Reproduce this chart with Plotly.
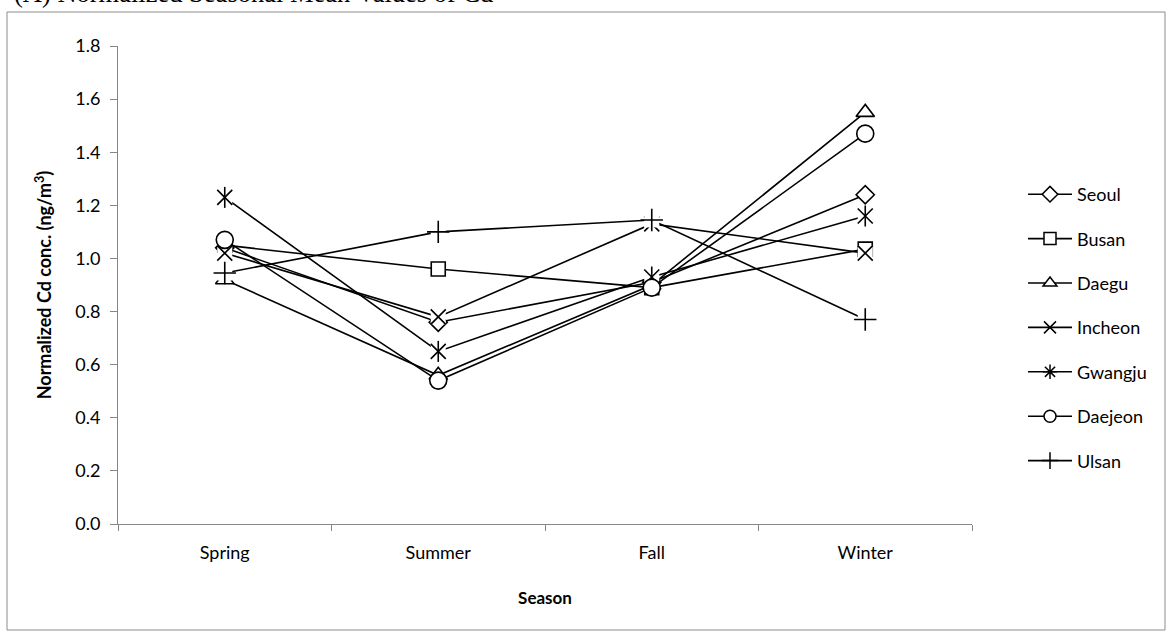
import plotly.graph_objects as go

# Seasonal mean Cd, normalized, for seven Korean cities
seasons = ["Spring", "Summer", "Fall", "Winter"]
seoul = [1.04, 0.76, 0.91, 1.24]
busan = [1.05, 0.96, 0.89, 1.035]
daegu = [0.92, 0.56, 0.90, 1.55]
incheon = [1.02, 0.78, 1.13, 1.02]
gwangju = [1.23, 0.65, 0.93, 1.16]
daejeon = [1.07, 0.54, 0.89, 1.47]
ulsan = [0.945, 1.10, 1.145, 0.77]

y_ticks = [0.0, 0.2, 0.4, 0.6, 0.8, 1.0, 1.2, 1.4, 1.6, 1.8]

# figure geometry (pixels)
W, H = 1173, 640
L, R, T, B = 118, 972, 46, 524

def px(x):
    return (x - L) / (R - L)

def py(y):
    return (B - y) / (B - T)

FONT = "Lato, 'Open Sans', sans-serif"
BLACK = "#000000"
LW = 1.6

# name, values, symbols drawn at the point, marker size, needs white backing square
series = [
    ("Seoul", seoul, ["diamond"], 14, False),
    ("Busan", busan, ["square"], 14, False),
    ("Daegu", daegu, ["triangle-up"], 16, False),
    ("Incheon", incheon, ["x-thin"], 15, True),
    ("Gwangju", gwangju, ["x-thin", "line-ns"], 15, True),
    ("Daejeon", daejeon, ["circle"], 17, False),
    ("Ulsan", ulsan, ["cross-thin"], 16, True),
]

legend_symbol = {"Gwangju": "asterisk"}

fig = go.Figure()

for name, vals, symbols, size, backed in series:
    if backed:
        # line plus white square backing that breaks the line at each point
        fig.add_trace(go.Scatter(
            x=seasons, y=vals, mode="lines+markers", showlegend=False,
            hoverinfo="skip",
            line=dict(color=BLACK, width=LW),
            marker=dict(symbol="square", size=15, color="white",
                        line=dict(width=0)),
        ))
        for sym in symbols:
            fig.add_trace(go.Scatter(
                x=seasons, y=vals, mode="markers", showlegend=False,
                name=name,
                marker=dict(symbol=sym, size=size, color=BLACK,
                            line=dict(color=BLACK, width=1.6)),
            ))
    else:
        fig.add_trace(go.Scatter(
            x=seasons, y=vals, mode="lines+markers", showlegend=False,
            name=name,
            line=dict(color=BLACK, width=LW),
            marker=dict(symbol=symbols[0], size=size, color="white",
                        line=dict(color=BLACK, width=1.6)),
        ))
    # legend entry
    fig.add_trace(go.Scatter(
        x=[None], y=[None], mode="lines+markers", name=name,
        legendgroup=name,
        line=dict(color=BLACK, width=LW),
        marker=dict(symbol=legend_symbol.get(name, symbols[0]),
                    size=12,
                    color="white" if not backed else BLACK,
                    line=dict(color=BLACK, width=1.5)),
    ))

axis_grey = "#868686"

fig.update_layout(
    width=W, height=H,
    margin=dict(l=L, r=W - R, t=T, b=H - B, pad=0),
    paper_bgcolor="white", plot_bgcolor="white",
    font=dict(family=FONT, size=18, color=BLACK),
    showlegend=True,
    legend=dict(
        x=px(1023), xanchor="left", y=py(176), yanchor="top",
        font=dict(family=FONT, size=18, color=BLACK),
        traceorder="grouped", tracegroupgap=18, itemwidth=44,
        bgcolor="rgba(0,0,0,0)", borderwidth=0,
    ),
    xaxis=dict(
        type="category", categoryorder="array", categoryarray=seasons,
        range=[-0.5, 3.5],
        showline=True, linecolor=axis_grey, linewidth=1,
        ticks="outside", tickson="boundaries", ticklen=6,
        tickcolor=axis_grey, showgrid=False, zeroline=False,
        tickfont=dict(family=FONT, size=18), ticklabelstandoff=12,
        title=dict(text="<b>Season</b>", font=dict(family=FONT, size=17),
                   standoff=30),
    ),
    yaxis=dict(
        range=[0, 1.8], tickvals=y_ticks, tickformat=".1f",
        showline=True, linecolor=axis_grey, linewidth=1,
        ticks="outside", ticklen=7, tickcolor=axis_grey,
        showgrid=False, zeroline=False,
        tickfont=dict(family=FONT, size=18), ticklabelstandoff=6,
        title=dict(text="<b>Normalized Cd conc. (ng/m<sup>3</sup>)</b>",
                   font=dict(family=FONT, size=18), standoff=18),
    ),
    shapes=[dict(
        type="rect", xref="paper", yref="paper",
        x0=px(7), x1=px(1165), y0=py(630), y1=py(12),
        line=dict(color="#8c8c8c", width=1), fillcolor="rgba(0,0,0,0)",
        layer="below",
    )],
    annotations=[dict(
        text="(A) Normalized Seasonal Mean Values of Cd",
        xref="paper", yref="paper", x=px(12), y=py(10),
        xanchor="left", yanchor="bottom", showarrow=False,
        font=dict(family="'Liberation Serif', 'Times New Roman', serif",
                  size=26.5, color=BLACK),
    )],
)

fig.write_html("out.html")
